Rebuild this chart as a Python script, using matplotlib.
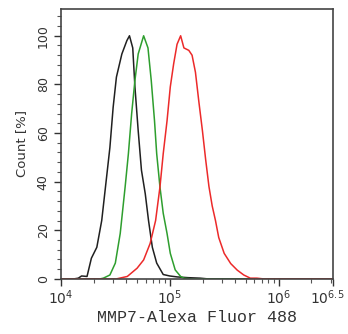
import numpy as np
import matplotlib
matplotlib.use("Agg")
import matplotlib.pyplot as plt
from matplotlib.ticker import FixedLocator, MultipleLocator
from matplotlib.transforms import ScaledTranslation

# log10 of fluorescence intensity, and count (%)
black_log = [4.00, 4.12, 4.16, 4.19, 4.24, 4.28, 4.33, 4.375, 4.42, 4.45, 4.48, 4.51, 4.56, 4.606,
             4.63, 4.66, 4.68, 4.71, 4.74, 4.775, 4.805, 4.84, 4.88, 4.94, 5.00, 5.07, 5.17, 5.28, 5.35, 6.50]
black_cnt = [0, 0, 0.3, 1.2, 1.0, 8.5, 13, 24, 42, 54, 70.6, 83, 92.5, 98,
             100, 95, 79, 61, 44.7, 35, 24, 13, 6.5, 1.8, 1.2, 0.8, 0.5, 0.3, 0, 0]

green_log = [4.00, 4.36, 4.39, 4.45, 4.50, 4.545, 4.59, 4.62, 4.65, 4.68, 4.71, 4.76, 4.80,
             4.83, 4.86, 4.88, 4.91, 4.94, 4.975, 5.005, 5.05, 5.10, 5.13, 5.20, 6.50]
green_cnt = [0, 0, 0.3, 1.6, 6.5, 18.7, 37.8, 51.5, 68, 81.6, 92.5, 100, 95,
             81.6, 65, 51.5, 37.8, 27, 18.7, 10.5, 3.7, 1.0, 0.3, 0, 0]

red_log = [4.00, 4.51, 4.61, 4.70, 4.76, 4.82, 4.87, 4.91, 4.94, 4.975, 5.005, 5.036, 5.067, 5.10,
           5.13, 5.175, 5.205, 5.236, 5.267, 5.30, 5.33, 5.36, 5.39, 5.42, 5.45, 5.50, 5.56, 5.62,
           5.68, 5.74, 5.80, 5.86, 6.50]
red_cnt = [0, 0, 1.0, 4.4, 7.8, 14.6, 24, 37.8, 51.5, 65, 79, 88.5, 96.5, 100,
           95, 94, 92, 85, 73, 61, 49, 38, 30, 24, 17, 10.5, 6.3, 3.6,
           1.6, 0.3, 0.3, 0, 0]

x_ticks = [4, 5, 6, 6.5]
x_tick_labels = [r"$10^{4}$", r"$10^{5}$", r"$10^{6}$", r"$10^{6.5}$"]
y_ticks = [0, 20, 40, 60, 80, 100]

fig = plt.figure(figsize=(3.48, 3.34), dpi=100)
ax = fig.add_axes([0.175, 0.165, 0.782, 0.808])

ax.plot(10 ** np.array(black_log), black_cnt, color="#202020", lw=1.1)
ax.plot(10 ** np.array(green_log), green_cnt, color="#2e9e2e", lw=1.1)
ax.plot(10 ** np.array(red_log), red_cnt, color="#ec2a2a", lw=1.1)

ax.set_xscale("log")
ax.set_xlim(1e4, 10 ** 6.5)
ax.set_ylim(0, 111)

ax.xaxis.set_major_locator(FixedLocator([10 ** v for v in x_ticks]))
ax.set_xticklabels(x_tick_labels, fontsize=10, color="#333333")
minor = [m * 10 ** d for d in (4, 5, 6) for m in range(2, 10) if m * 10 ** d < 10 ** 6.5]
ax.xaxis.set_minor_locator(FixedLocator(minor))
ax.xaxis.set_minor_formatter(plt.NullFormatter())

ax.set_yticks(y_ticks)
ax.yaxis.set_minor_locator(MultipleLocator(4))
for lab in ax.get_yticklabels():
    lab.set_rotation(90)
    lab.set_va("center")
    lab.set_fontsize(9)
    lab.set_color("#333333")

ax.tick_params(axis="both", which="major", direction="out", length=5, width=1, color="#333333")
ax.tick_params(axis="both", which="minor", direction="out", length=3, width=0.8, color="#555555")
ax.tick_params(axis="x", pad=2)
ax.tick_params(axis="y", pad=3)
for s in ax.spines.values():
    s.set_color("#444444")
    s.set_linewidth(1.2)

# last x label sits at the right edge, shift it in a few pixels
last = ax.get_xticklabels()[-1]
last.set_transform(last.get_transform() + ScaledTranslation(-4 / 72, 0, fig.dpi_scale_trans))

ax.set_ylabel("Count [%]", fontsize=9.5, color="#333333", labelpad=6)
ax.set_xlabel("MMP7-Alexa Fluor 488", fontsize=12, family="Liberation Mono", color="#333333", labelpad=2)

fig.savefig("out.png", dpi=100)
